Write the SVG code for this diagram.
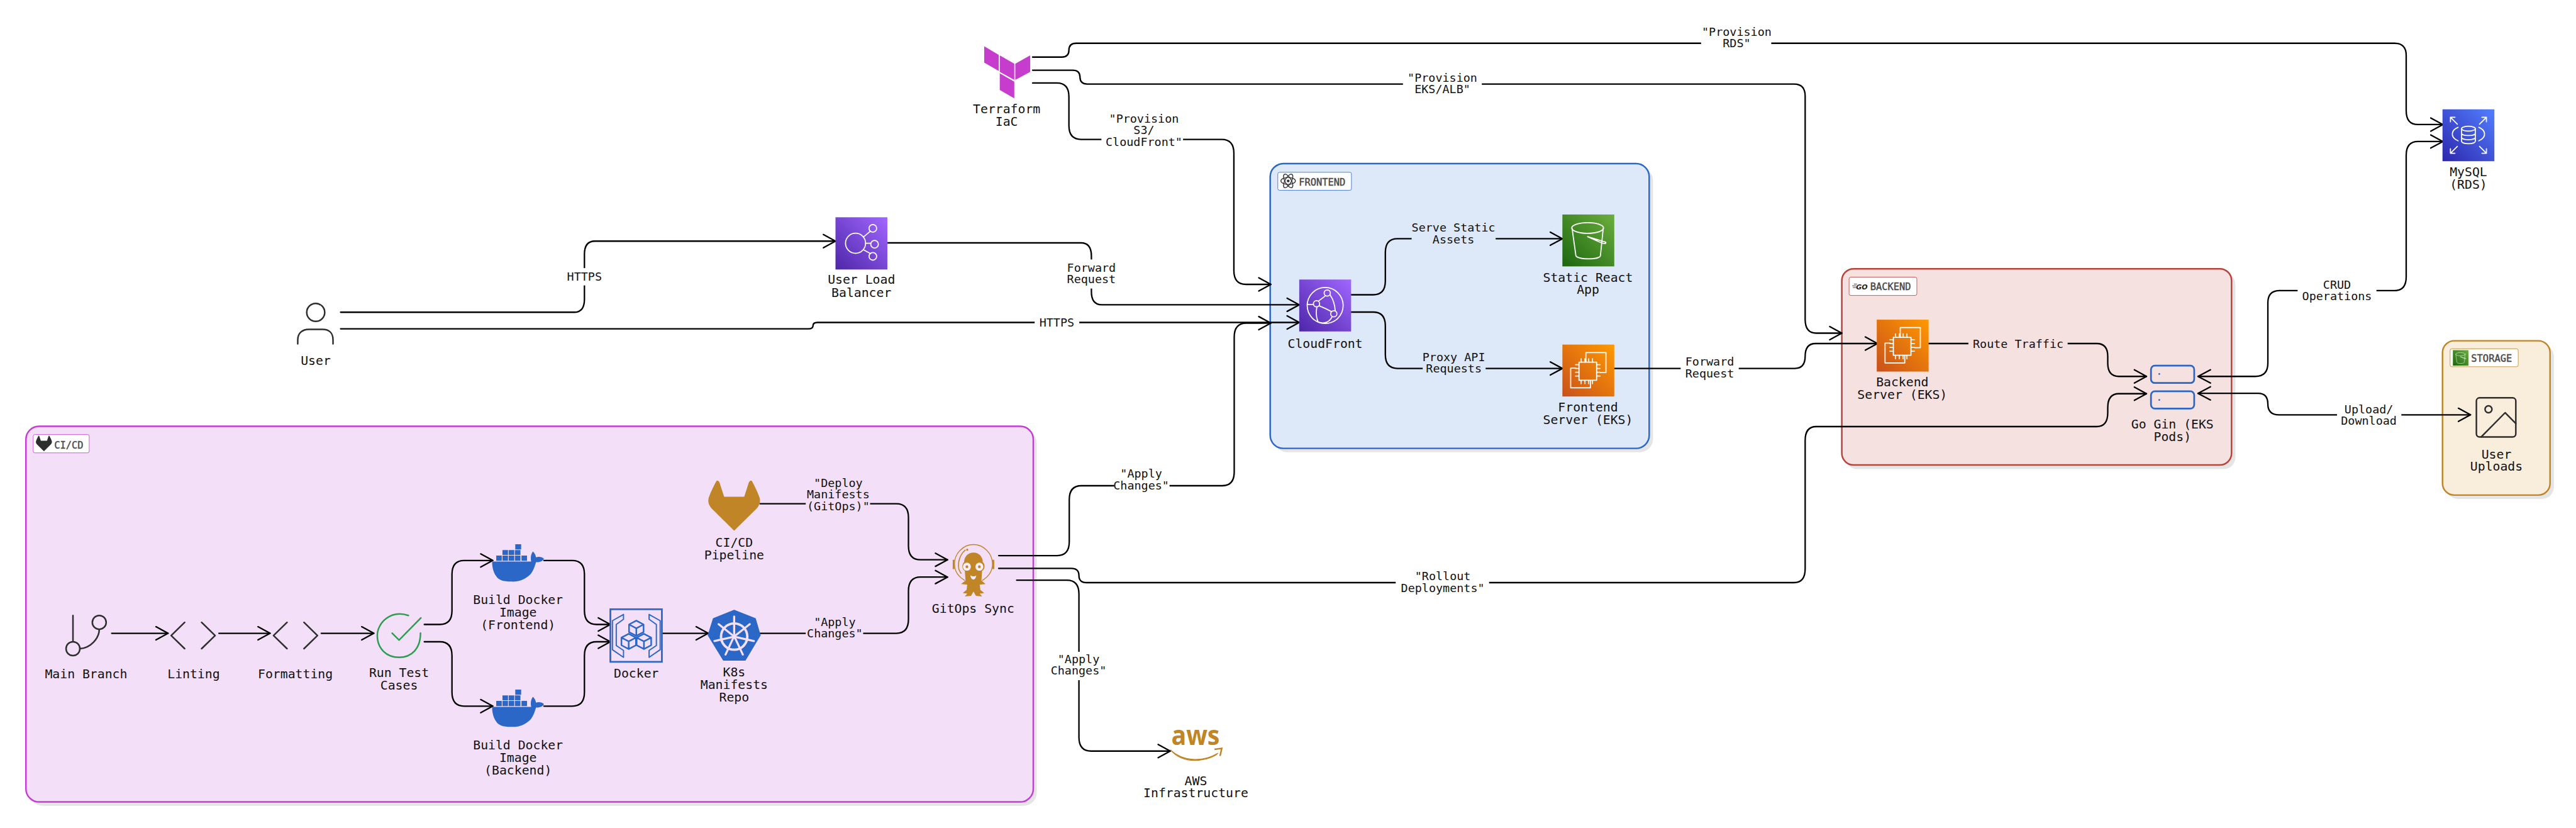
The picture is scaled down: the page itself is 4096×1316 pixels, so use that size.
<svg xmlns="http://www.w3.org/2000/svg" width="4096" height="1316" viewBox="0 0 4096 1316">
<style>
text{font-family:"DejaVu Sans Mono","Liberation Mono",monospace;text-anchor:middle;fill:#111}
.n{font-size:36px}
.e{font-size:33.5px}
.b{font-size:28px;fill:#4a4a4a;text-anchor:start;stroke:#4a4a4a;stroke-width:.8}
.c{fill:none;stroke:#000;stroke-width:4.2;stroke-linecap:round;stroke-linejoin:round}
.a{marker-end:url(#arr)}
.w{fill:none;stroke:#fff;stroke-width:3.2;stroke-linecap:round;stroke-linejoin:round}
.k{fill:none;stroke:#2e2e2e;stroke-width:4.5;stroke-linecap:round;stroke-linejoin:round}
.sh{fill:#e5e5e5}
.bd{fill:#fff;stroke-width:1.5}
.gold{fill:#c08526}
.blue{fill:#2a67c7}
</style>
<defs>
<marker id="arr" markerUnits="userSpaceOnUse" markerWidth="50" markerHeight="50" viewBox="-42 -25 50 50" refX="0" refY="0" orient="auto" overflow="visible">
<path d="M-35,-19 L0,0 L-35,19" fill="none" stroke="#000" stroke-width="4.2" stroke-linecap="round" stroke-linejoin="round"/>
</marker>
<linearGradient id="gP" x1="0" y1="1" x2="1" y2="0"><stop offset="0" stop-color="#4d27a8"/><stop offset="1" stop-color="#a166ff"/></linearGradient>
<linearGradient id="gG" x1="0" y1="1" x2="1" y2="0"><stop offset="0" stop-color="#1b660f"/><stop offset="1" stop-color="#6cae3e"/></linearGradient>
<linearGradient id="gO" x1="0" y1="1" x2="1" y2="0"><stop offset="0" stop-color="#c8511b"/><stop offset="1" stop-color="#ff9900"/></linearGradient>
<linearGradient id="gB" x1="0" y1="1" x2="1" y2="0"><stop offset="0" stop-color="#2e27ad"/><stop offset="1" stop-color="#527fff"/></linearGradient>
<g id="ec2">
<rect width="150" height="150" fill="url(#gO)"/>
<rect class="w" x="48" y="51" width="51" height="52"/>
<path class="w" d="M68,50 V23 H126 V81 H110 M39,68 H24 V125 H81 V105"/>
<path class="w" d="M54,41 V51 M65,41 V51 M76,41 V51 M87,41 V51 M54,103 V113 M65,103 V113 M76,103 V113 M87,103 V113 M38,58 H48 M38,69 H48 M38,80 H48 M38,91 H48 M99,58 H109 M99,69 H109 M99,80 H109 M99,91 H109"/>
</g>
<g id="s3">
<rect width="150" height="150" fill="url(#gG)"/>
<g class="w">
<ellipse cx="73" cy="39" rx="46" ry="15.5"/>
<path d="M28,40 L39,119 C44,131 108,131 110,119 L118,40 M73,64 L125,80 C128,86 118,84 113,82 L73,64"/>
</g>
</g>
<g id="whale">
<path class="blue" d="M1423,1623 H1536 C1533,1608 1537,1600 1541,1594 C1546,1598 1549,1605 1550,1611 C1558,1608 1568,1610 1573,1615 C1571,1621 1562,1626 1550,1625 C1544,1645 1538,1660 1524,1668 C1510,1678 1494,1682 1478,1681 C1455,1681 1440,1676 1434,1664 C1427,1654 1423,1640 1423,1623Z"/>
<path class="blue" d="M1435,1606h16v15h-16z M1453,1606h16v15h-16z M1471,1606h16v15h-16z M1489,1606h16v15h-16z M1508,1606h16v15h-16z M1453,1590h16v14h-16z M1471,1590h16v14h-16z M1489,1590h16v14h-16z M1490,1573h17v15h-17z"/>
</g>
<path id="fox" d="M2123,1534 L2058,1470 C2049,1460 2047,1450 2049,1440 C2054,1425 2066,1400 2072,1390 C2076,1388 2079,1390 2081,1396 L2094,1436 H2152 L2165,1396 C2167,1390 2170,1388 2174,1390 C2180,1400 2192,1425 2197,1440 C2199,1450 2197,1460 2188,1470Z"/>
<path id="cube" d="M0,-22 L21,-11 V11 L0,22 L-21,11 V-11Z M-21,-11 L0,0 L21,-11 M0,0 V22" fill="none" stroke="#2a67c7" stroke-width="4.5" stroke-linejoin="round"/>
</defs>
<g transform="scale(0.54987)">
<rect width="7449" height="2394" fill="#fff"/>

<g id="group-cicd">
<rect class="sh" x="85" y="1243" width="2913" height="1086" rx="38"/>
<rect x="75" y="1232" width="2913" height="1086" rx="38" fill="#f4dff8" stroke="#c43dd4" stroke-width="4.5"/>
<rect class="bd" x="96" y="1256" width="162" height="53" rx="5" stroke="#c43dd4"/>
<use href="#fox" transform="translate(127,1282) scale(.31) translate(-2123,-1462)" fill="#2e2e2e"/>
<text class="b" x="157" y="1296">CI/CD</text>
</g>
<g id="group-frontend">
<rect class="sh" x="3684" y="484" width="1096" height="823" rx="38"/>
<rect x="3673" y="473" width="1096" height="823" rx="38" fill="#dde8f8" stroke="#2a67c7" stroke-width="4.5"/>
<rect class="bd" x="3695" y="498" width="213" height="52" rx="5" stroke="#2a67c7"/>
<g fill="none" stroke="#333" stroke-width="2.5"><ellipse cx="3725" cy="523" rx="21" ry="10"/><ellipse cx="3725" cy="523" rx="22" ry="9" transform="rotate(60 3725 523)"/><ellipse cx="3725" cy="523" rx="22" ry="9" transform="rotate(120 3725 523)"/></g>
<circle cx="3725" cy="523" r="4" fill="#333"/>
<text class="b" x="3756" y="536">FRONTEND</text>
</g>
<g id="group-backend">
<rect class="sh" x="5337" y="788" width="1127" height="568" rx="34"/>
<rect x="5326" y="777" width="1127" height="567" rx="34" fill="#f5e1e0" stroke="#bb413b" stroke-width="4.5"/>
<rect class="bd" x="5347" y="801" width="196" height="53" rx="5" stroke="#bb413b"/>
<path d="M5356,826 H5368 M5358,831 H5368 M5361,821 H5370" stroke="#444" stroke-width="2"/>
<text x="5384" y="836" style="font-family:'DejaVu Sans',sans-serif;font-size:20px;font-weight:bold;font-style:italic;fill:#222">GO</text>
<text class="b" x="5408" y="838">BACKEND</text>
</g>
<g id="group-storage">
<rect class="sh" x="7074" y="996" width="311" height="446" rx="34"/>
<rect x="7063" y="985" width="311" height="446" rx="34" fill="#f9eddc" stroke="#c08526" stroke-width="4.5"/>
<rect class="bd" x="7085" y="1008" width="197" height="52" rx="5" stroke="#c08526"/>
<use href="#s3" transform="translate(7093,1012) scale(.3)"/>
<text class="b" x="7146" y="1046">STORAGE</text>
</g>

<g id="connectors">
<path class="c a" d="M323,1830.5 H486"/>
<path class="c a" d="M633,1830.5 H781"/>
<path class="c a" d="M929,1830.5 H1081"/>
<path class="c a" d="M1227,1805 H1272 Q1307,1805 1307,1765 V1660 Q1307,1620 1342,1620 H1425"/>
<path class="c a" d="M1227,1855 H1272 Q1307,1855 1307,1895 V2001 Q1307,2041 1342,2041 H1425"/>
<path class="c a" d="M1573,1620 H1655 Q1690,1620 1690,1660 V1765 Q1690,1805 1725,1805 H1765"/>
<path class="c a" d="M1573,2041 H1655 Q1690,2041 1690,2001 V1895 Q1690,1855 1725,1855 H1765"/>
<path class="c a" d="M1915,1830.5 H2048"/>
<path class="c a" d="M2198,1456 H2592 Q2627,1456 2627,1496 V1578 Q2627,1618 2662,1618 H2740"/>
<path class="c a" d="M2198,1830.5 H2592 Q2627,1830.5 2627,1790 V1708 Q2627,1668 2662,1668 H2740"/>
<path class="c a" d="M2888,1606 H3057 Q3092,1606 3092,1566 V1444 Q3092,1404 3127,1404 H3534 Q3569,1404 3569,1364 V974 Q3569,934 3604,934 H3675"/>
<path class="c a" d="M2888,1643 H3098 Q3120,1643 3120,1664 Q3120,1684 3142,1684 H5188 Q5220,1684 5220,1644 V1273 Q5220,1233 5252,1233 H6063 Q6095,1233 6095,1193 V1178 Q6095,1138 6127,1138 H6207"/>
<path class="c a" d="M2940,1677 H3085 Q3120,1677 3120,1717 V2131 Q3120,2171 3155,2171 H3384"/>
<path class="c a" d="M2986,165 H3070 Q3091,165 3091,145 Q3091,125 3112,125 H6924 Q6958,125 6958,160 V320 Q6958,360 6992,360 H7064"/>
<path class="c a" d="M2986,203 H3102 Q3123,203 3123,223 Q3123,243 3144,243 H5188 Q5220,243 5220,278 V923 Q5220,963 5252,963 H5326"/>
<path class="c a" d="M2986,240 H3056 Q3091,240 3091,280 V363 Q3091,403 3126,403 H3533 Q3568,403 3568,443 V782 Q3568,822 3603,822 H3675"/>
<path class="c a" d="M985,902.5 H1660 Q1690,902.5 1690,865 V735 Q1690,697 1720,697 H2416"/>
<path class="c a" d="M985,950.6 H2338 Q2351,950.6 2351,941 Q2351,932 2364,932 H3757"/>
<path class="c a" d="M2566,702 H3126 Q3156,702 3156,740 V843 Q3156,881 3186,881 H3757"/>
<path class="c a" d="M3907,852 H3971 Q4006,852 4006,812 V730 Q4006,690 4041,690 H4518"/>
<path class="c a" d="M3907,902 H3971 Q4006,902 4006,942 V1025 Q4006,1065 4041,1065 H4518"/>
<path class="c a" d="M4668,1065 H5190 Q5220,1065 5220,1030 Q5220,993 5250,993 H5429"/>
<path class="c a" d="M5576,993 H6063 Q6095,993 6095,1030 V1050 Q6095,1088 6127,1088 H6207"/>
<path class="c a" d="M6592,840 H6924 Q6958,840 6958,800 V449 Q6958,409 6992,409 H7064"/>
<path class="c" d="M6592,840 Q6558,840 6558,875 V1050 Q6558,1088 6522,1088 H6356"/>
<path class="c" d="M6392,1069 L6356,1088 L6392,1107"/>
<path class="c" d="M6392,1118 L6356,1137 L6392,1156"/>
<path class="c a" d="M6356,1137 H6530 Q6558,1137 6558,1168 Q6558,1199 6590,1199 H7144"/>

<g id="edge-labels">
<rect x="2330" y="1380" width="186" height="105" fill="#f4dff8"/>
<text class="e"><tspan x="2424" y="1408">"Deploy</tspan><tspan x="2424" y="1441">Manifests</tspan><tspan x="2424" y="1475">(GitOps)"</tspan></text>
<rect x="2330" y="1782" width="166" height="73" fill="#f4dff8"/>
<text class="e"><tspan x="2414" y="1810">"Apply</tspan><tspan x="2414" y="1843">Changes"</tspan></text>
<rect x="3222" y="1358" width="160" height="72" fill="#fff"/>
<text class="e"><tspan x="3300" y="1381">"Apply</tspan><tspan x="3300" y="1414">Changes"</tspan></text>
<rect x="3036" y="1884" width="166" height="82" fill="#fff"/>
<text class="e"><tspan x="3119" y="1917">"Apply</tspan><tspan x="3119" y="1950">Changes"</tspan></text>
<rect x="4036" y="1650" width="270" height="72" fill="#fff"/>
<text class="e"><tspan x="4172" y="1677">"Rollout</tspan><tspan x="4172" y="1711">Deployments"</tspan></text>
<rect x="4919" y="78" width="203" height="68" fill="#fff"/>
<text class="e"><tspan x="5022" y="103">"Provision</tspan><tspan x="5022" y="137">RDS"</tspan></text>
<rect x="4057" y="210" width="228" height="70" fill="#fff"/>
<text class="e"><tspan x="4171" y="237">"Provision</tspan><tspan x="4171" y="270">EKS/ALB"</tspan></text>
<rect x="3185" y="328" width="236" height="104" fill="#fff"/>
<text class="e"><tspan x="3308" y="355">"Provision</tspan><tspan x="3308" y="388">S3/</tspan><tspan x="3308" y="422">CloudFront"</tspan></text>
<rect x="1650" y="775" width="80" height="50" fill="#fff"/>
<text class="e" x="1690" y="812">HTTPS</text>
<rect x="2992" y="915" width="129" height="40" fill="#fff"/>
<text class="e" x="3056" y="944">HTTPS</text>
<rect x="3090" y="750" width="132" height="84" fill="#fff"/>
<text class="e"><tspan x="3156" y="785">Forward</tspan><tspan x="3156" y="818">Request</tspan></text>
<rect x="4082" y="640" width="243" height="72" fill="#dde8f8"/>
<text class="e"><tspan x="4203" y="669">Serve Static</tspan><tspan x="4203" y="703">Assets</tspan></text>
<rect x="4114" y="1018" width="182" height="70" fill="#dde8f8"/>
<text class="e"><tspan x="4204" y="1044">Proxy API</tspan><tspan x="4204" y="1077">Requests</tspan></text>
<rect x="4860" y="1030" width="168" height="70" fill="#fff"/>
<text class="e"><tspan x="4944" y="1057">Forward</tspan><tspan x="4944" y="1091">Request</tspan></text>
<rect x="5692" y="975" width="287" height="38" fill="#f5e1e0"/>
<text class="e" x="5836" y="1005">Route Traffic</text>
<rect x="6644" y="808" width="228" height="68" fill="#fff"/>
<text class="e"><tspan x="6758" y="835">CRUD</tspan><tspan x="6758" y="868">Operations</tspan></text>
<rect x="6758" y="1168" width="186" height="66" fill="#fff"/>
<text class="e"><tspan x="6850" y="1194">Upload/</tspan><tspan x="6850" y="1228">Download</tspan></text>
</g>
</g>

<g id="node-main-branch">
<path class="k" d="M211,1779 V1855 M231,1875 C262,1873 287,1845 287,1819"/>
<circle class="k" cx="211" cy="1875" r="20"/><circle class="k" cx="287" cy="1799" r="20"/>
<text class="n" x="249" y="1960">Main Branch</text>
</g>
<g id="node-linting">
<path class="k" d="M534,1799 L495,1837 L534,1875 M583,1799 L622,1837 L583,1875"/>
<text class="n" x="560" y="1960">Linting</text>
</g>
<g id="node-formatting">
<path class="k" d="M830,1799 L791,1837 L830,1875 M879,1799 L918,1837 L879,1875"/>
<text class="n" x="854" y="1960">Formatting</text>
</g>
<g id="node-test">
<path d="M1181,1779 C1130,1762 1091,1800 1091,1837 C1091,1875 1118,1900 1154,1900 C1190,1900 1216,1875 1216,1830" fill="none" stroke="#2a9d4f" stroke-width="4.5" stroke-linecap="round"/>
<path d="M1134,1830 L1154,1850 L1217,1786" fill="none" stroke="#2a9d4f" stroke-width="4.5" stroke-linecap="round" stroke-linejoin="round"/>
<text class="n"><tspan x="1154" y="1956">Run Test</tspan><tspan x="1154" y="1993">Cases</tspan></text>
</g>
<g id="node-docker-frontend">
<use href="#whale"/>
<text class="n"><tspan x="1498" y="1746">Build Docker</tspan><tspan x="1498" y="1782">Image</tspan><tspan x="1498" y="1818">(Frontend)</tspan></text>
</g>
<g id="node-docker-backend">
<use href="#whale" transform="translate(0,420)"/>
<text class="n"><tspan x="1498" y="2166">Build Docker</tspan><tspan x="1498" y="2202">Image</tspan><tspan x="1498" y="2238">(Backend)</tspan></text>
</g>
<g id="node-docker">
<rect x="1765" y="1761" width="149" height="152" fill="none" stroke="#2a67c7" stroke-width="5"/>
<g fill="none" stroke="#2a67c7" stroke-width="3.5" stroke-linejoin="round">
<path d="M1771,1794 L1803,1776 V1790 L1782,1805 V1866 L1803,1880 V1900 L1771,1878Z"/>
<path d="M1909,1794 L1877,1776 V1790 L1898,1805 V1866 L1877,1880 V1900 L1909,1878Z"/>
</g>
<use href="#cube" x="1840" y="1816"/><use href="#cube" x="1818" y="1854"/><use href="#cube" x="1862" y="1854"/>
<text class="n" x="1840" y="1959">Docker</text>
</g>
<g id="node-k8s">
<path class="blue" d="M2123,1764 L2184,1788 L2198,1836 L2155,1908 H2092 L2048,1836 L2063,1788Z" stroke="#2a67c7" stroke-width="3" stroke-linejoin="round"/>
<g fill="none" stroke="#f4dff8">
<circle cx="2123" cy="1840" r="38" stroke-width="7"/>
<path stroke-width="6" stroke-linecap="round" d="M2123,1832 V1782 M2129,1835 L2168,1804 M2131,1842 L2180,1853 M2127,1847 L2148,1892 M2119,1847 L2098,1892 M2115,1842 L2066,1853 M2117,1835 L2078,1804"/>
</g>
<circle cx="2123" cy="1840" r="7" fill="#f4dff8"/>
<text class="n"><tspan x="2123" y="1955">K8s</tspan><tspan x="2123" y="1992">Manifests</tspan><tspan x="2123" y="2028">Repo</tspan></text>
</g>
<g id="node-pipeline">
<use href="#fox" class="gold"/>
<text class="n"><tspan x="2123" y="1580">CI/CD</tspan><tspan x="2123" y="1617">Pipeline</tspan></text>
</g>
<g id="node-gitops">
<path d="M2790,1678 C2768,1665 2760,1648 2760,1630 C2760,1600 2785,1574 2815,1574 C2845,1574 2870,1600 2870,1630 C2870,1648 2862,1665 2840,1678" fill="none" stroke="#c08526" stroke-width="2.5"/>
<path class="gold" d="M2755,1618 h5 v27 h-5z M2870,1618 h5 v27 h-5z"/>
<path d="M2791,1590 C2772,1606 2765,1640 2779,1657" fill="none" stroke="#c08526" stroke-width="3" stroke-linecap="round"/>
<circle class="gold" cx="2797" cy="1589" r="3"/>
<path class="gold" d="M2815,1597 C2832,1597 2842,1610 2842,1625 C2849,1630 2849,1646 2840,1650 L2838,1678 L2850,1688 L2833,1690 L2835,1705 L2846,1714 L2833,1716 L2840,1724 L2822,1722 L2815,1710 L2808,1722 L2790,1724 L2797,1716 L2784,1714 L2795,1705 L2797,1690 L2779,1688 L2792,1678 L2790,1650 C2781,1646 2781,1630 2788,1625 C2788,1610 2798,1597 2815,1597Z"/>
<g fill="#f9eef9"><circle cx="2796" cy="1638" r="11.5"/><circle cx="2832" cy="1638" r="11.5"/><path d="M2806,1663 C2814,1667 2818,1667 2823,1663 C2822,1670 2819,1675 2815,1675 C2810,1675 2807,1670 2806,1663Z"/></g>
<circle class="gold" cx="2796" cy="1638" r="4"/><circle class="gold" cx="2832" cy="1638" r="4"/>
<text class="n" x="2814" y="1771">GitOps Sync</text>
</g>
<g id="node-aws">
<text x="3457" y="2153" style="font-family:'Open Sans',sans-serif;font-size:78px;font-weight:700;fill:#c08526" textLength="140" lengthAdjust="spacingAndGlyphs">aws</text>
<path d="M3384,2167 C3420,2200 3475,2205 3522,2177 C3515,2185 3490,2198 3455,2198 C3425,2198 3400,2186 3384,2167Z" class="gold" stroke="#c08526" stroke-width="2"/>
<path d="M3512,2166 L3533,2163 L3528,2185" fill="none" stroke="#c08526" stroke-width="4.5"/>
<text class="n"><tspan x="3458" y="2269">AWS</tspan><tspan x="3458" y="2305">Infrastructure</tspan></text>
</g>
<g id="node-terraform">
<path fill="#c63dce" d="M2846,133.5 L2888,158.5 V205 L2846,181Z M2891,160 L2933,184 V231 L2891,207.6Z M2979,160 L2936,184 V231 L2979,207.6Z M2891,212 L2933,236 V284 L2891,260Z"/>
<text class="n"><tspan x="2911" y="327">Terraform</tspan><tspan x="2911" y="364">IaC</tspan></text>
</g>
<g id="node-user">
<circle class="k" cx="913" cy="903" r="26"/>
<path class="k" d="M861,994 V982 C861,962 875,952 893,952 H933 C951,952 963,962 963,982 V994"/>
<text class="n" x="913" y="1055">User</text>
</g>
<g id="node-alb">
<rect x="2416" y="628" width="150" height="151" fill="url(#gP)"/>
<g class="w"><circle cx="2474" cy="703" r="29"/><circle cx="2524" cy="660" r="11"/><circle cx="2529" cy="706" r="11"/><circle cx="2524" cy="741" r="11"/><path d="M2503,703 H2518 M2497,685 L2517,668 M2497,722 L2517,733"/></g>
<text class="n"><tspan x="2491" y="821">User Load</tspan><tspan x="2491" y="859">Balancer</tspan></text>
</g>
<g id="node-cloudfront">
<rect x="3757" y="808" width="150" height="150" fill="url(#gP)"/>
<g class="w"><circle cx="3832" cy="883" r="52"/><circle cx="3838" cy="847" r="9"/><circle cx="3807" cy="878" r="9"/><circle cx="3857" cy="907" r="9"/>
<path d="M3833,855 L3813,870 M3780,880 H3798 M3815,884 C3830,890 3842,896 3851,901 M3846,852 C3855,865 3860,880 3861,898 M3808,887 C3805,905 3806,920 3812,931 M3812,931 C3830,938 3845,930 3852,916"/></g>
<text class="n" x="3832" y="1005">CloudFront</text>
</g>
<g id="node-s3">
<use href="#s3" x="4518" y="620"/>
<text class="n"><tspan x="4592" y="814">Static React</tspan><tspan x="4592" y="850">App</tspan></text>
</g>
<g id="node-frontend-eks">
<use href="#ec2" x="4518" y="996"/>
<text class="n"><tspan x="4592" y="1190">Frontend</tspan><tspan x="4592" y="1225">Server (EKS)</tspan></text>
</g>
<g id="node-backend-eks">
<use href="#ec2" x="5427" y="924"/>
<text class="n"><tspan x="5501" y="1116">Backend</tspan><tspan x="5501" y="1153">Server (EKS)</tspan></text>
</g>
<g id="node-pods">
<rect x="6220" y="1057" width="125" height="50" rx="11" fill="none" stroke="#2a67c7" stroke-width="5"/>
<rect x="6220" y="1131" width="125" height="50" rx="11" fill="none" stroke="#2a67c7" stroke-width="5"/>
<circle class="blue" cx="6244" cy="1081" r="2.5"/><circle class="blue" cx="6244" cy="1156" r="2.5"/>
<text class="n"><tspan x="6282" y="1239">Go Gin (EKS</tspan><tspan x="6282" y="1275">Pods)</tspan></text>
</g>
<g id="node-rds">
<rect x="7063" y="316" width="150" height="150" fill="url(#gB)"/>
<g class="w">
<ellipse cx="7138" cy="372" rx="20" ry="7"/>
<path d="M7118,372 V408 C7118,418 7158,418 7158,408 V372 M7118,385 C7118,394 7158,394 7158,385 M7118,397 C7118,406 7158,406 7158,397"/>
<path d="M7108,368 C7090,375 7082,395 7108,407 M7168,368 C7186,375 7194,395 7168,407"/>
<path d="M7086,339 L7106,359 M7086,352 V339 H7099 M7190,339 L7170,359 M7190,352 V339 H7177 M7086,443 L7106,423 M7086,430 V443 H7099 M7190,443 L7170,423 M7190,430 V443 H7177"/>
</g>
<text class="n"><tspan x="7138" y="510">MySQL</tspan><tspan x="7138" y="546">(RDS)</tspan></text>
</g>
<g id="node-uploads">
<rect class="k" x="7161" y="1150" width="114" height="113" rx="9"/>
<circle class="k" cx="7196" cy="1183" r="10"/>
<path class="k" d="M7175,1263 L7244,1193 L7275,1224"/>
<text class="n"><tspan x="7219" y="1325">User</tspan><tspan x="7219" y="1361">Uploads</tspan></text>
</g>
</g>
</svg>
